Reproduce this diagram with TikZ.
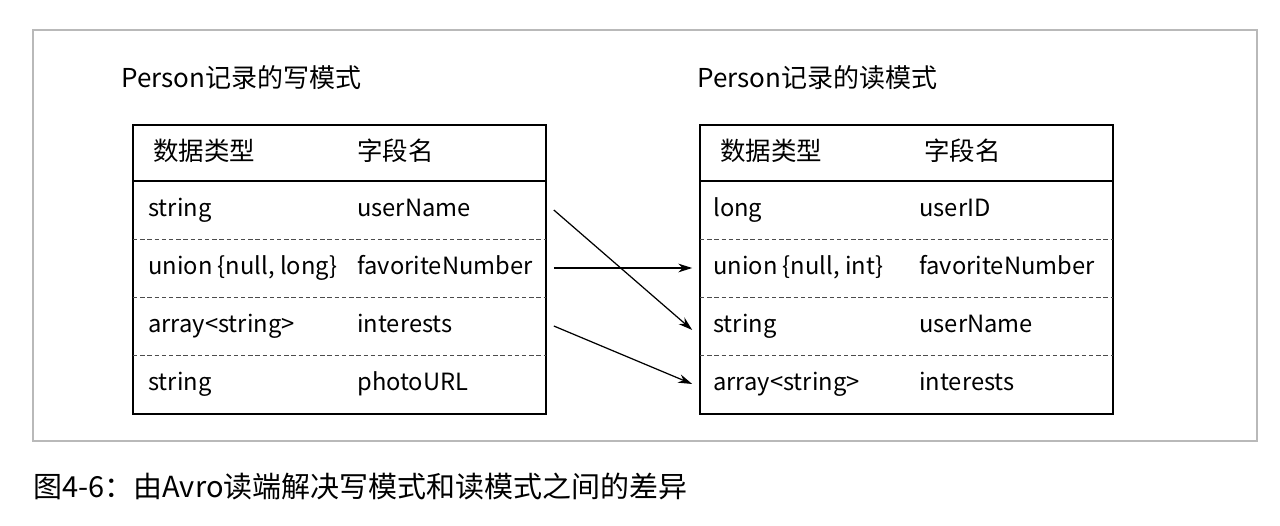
\documentclass[tikz,border=0pt]{standalone}
\usepackage{fontspec}
\setmainfont{Noto Sans CJK SC}
\usetikzlibrary{arrows.meta}
\tikzset{
  cell/.style={anchor=west, inner sep=0pt, text height=10pt, text depth=3pt, font=\fontsize{13.5}{16}\selectfont},
  headcell/.style={anchor=west, inner sep=0pt, text height=11pt, text depth=3pt, font=\fontsize{14.5}{16}\selectfont},
  rowbox/.style={minimum width=8.24cm, minimum height=1.16cm, inner sep=0pt},
  link/.style={line width=0.7pt, -{Stealth[length=8pt,width=5pt]}}
}

\begin{document}
\begin{tikzpicture}[x=0.02cm,y=-0.02cm]
    \useasboundingbox (0,0) rectangle (1280,526);
    \draw [gray!55, line width=0.7pt] (33,30) rectangle (1257,441);
    % titles
    \node [headcell, font=\fontsize{14.8}{16}\selectfont] (wtitle) at (121,80) {Person记录的写模式};
    \node [headcell, font=\fontsize{14.8}{16}\selectfont] (rtitle) at (697,80) {Person记录的读模式};
    % the two tables
    \foreach \x in {133,700}
    {
      \draw [line width=1.4pt] (\x,125) rectangle (\x+413,414);
      \draw [line width=1.4pt] (\x,181) -- (\x+413,181);
      \foreach \y in {239,297,355}
        \draw [gray!60!black, dash pattern=on 2.5pt off 1.6pt] (\x,\y) -- (\x+413,\y);
      \node [headcell] at (\x+20,153) {数据类型};
      \node [headcell] at (\x+224,153) {字段名};
    }
    \foreach \t/\n [count=\i] in {string/userName, {union \{null, long\}}/favoriteNumber, array<string>/interests, string/photoURL}
    {
      \node [rowbox] (w\i) at (339.5,152+58*\i) {};
      \node [cell] at (148,152+58*\i) {\t};
      \node [cell] at (357,152+58*\i) {\n};
    }
    \foreach \t/\n [count=\i] in {long/userID, {union \{null, int\}}/favoriteNumber, string/userName, array<string>/interests}
    {
      \node [rowbox] (r\i) at (906.5,152+58*\i) {};
      \node [cell] at (713,152+58*\i) {\t};
      \node [cell] at (919,152+58*\i) {\n};
    }
    % links between the fields
    \draw [link] ([xshift=0.16cm]w1.east) -- ([xshift=-0.16cm,yshift=-0.08cm]r3.west);
    \draw [link] ([xshift=0.16cm]w2.east) -- ([xshift=-0.16cm]r2.west);
    \draw [link] ([xshift=0.16cm]w3.east) -- ([xshift=-0.16cm]r4.west);
    % caption
    \node [cell, font=\fontsize{16.5}{20}\selectfont] (caption) at (33,491) {图4-6：由Avro读端解决写模式和读模式之间的差异};
\end{tikzpicture}
\end{document}
